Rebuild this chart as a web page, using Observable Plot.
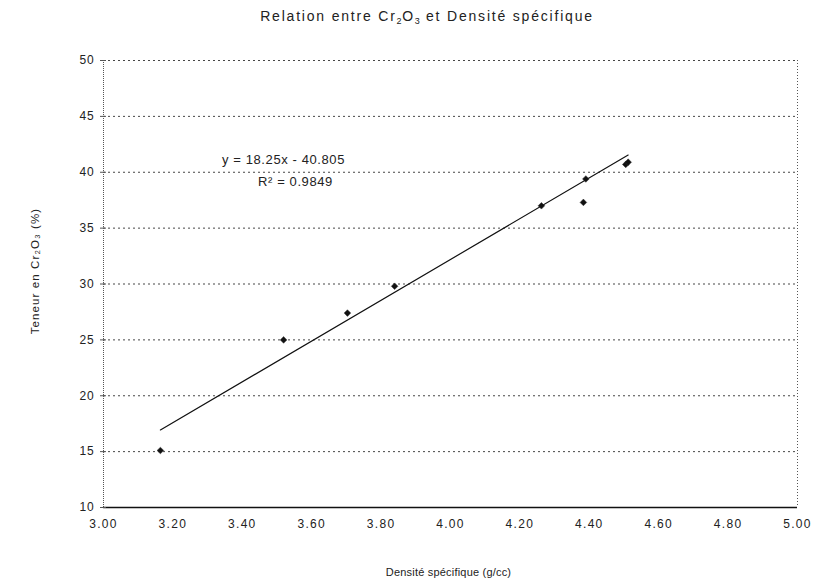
<!DOCTYPE html>
<html>
<head>
<meta charset="utf-8">
<script src="https://cdn.jsdelivr.net/npm/d3@7"></script>
<script src="https://cdn.jsdelivr.net/npm/@observablehq/plot@0.6"></script>
<style>
  body { margin: 0; background: #fff; }
  #title { width: 830px; height: 34px; box-sizing: border-box; padding: 9px 0 0 24px;
    text-align: center; font: 14px "Liberation Sans", Arial, sans-serif; letter-spacing: 1.8px; color: #222; line-height: 15px; }
  #title sub { font-size: 9px; vertical-align: -3px; line-height: 0; letter-spacing: 0.5px; }
  .xax text { font-size: 12px; letter-spacing: 1.3px; }
  .yax text { font-size: 12px; letter-spacing: 0.8px; }
  .eq text { letter-spacing: 0.6px; }
  .xlab text { letter-spacing: 0.2px; }
  .ylab text { letter-spacing: 1.1px; }
</style>
</head>
<body>
<div id="title">Relation entre Cr<sub>2</sub>O<sub>3</sub> et Densité spécifique</div>
<div id="chart"></div>
<script>
// Data
const densite = [3.164, 3.519, 3.703, 3.839, 4.262, 4.390, 4.383, 4.505, 4.512];
const teneur  = [15.1, 25.0, 27.4, 29.8, 37.0, 39.4, 37.3, 40.7, 40.9];
const xTicks = [3.0, 3.2, 3.4, 3.6, 3.8, 4.0, 4.2, 4.4, 4.6, 4.8, 5.0];
const yTicks = [10, 15, 20, 25, 30, 35, 40, 45, 50];
const slope = 18.25, intercept = -40.805, r2 = 0.9849;
const equationText = [`y = ${slope}x - ${Math.abs(intercept)}`, `R² = ${r2}`];
const xLabel = "Densité spécifique (g/cc)";
const yLabel = "Teneur en Cr₂O₃ (%)";

const points = densite.map((d, i) => ({x: d, y: teneur[i]}));
const xmin = d3.min(densite), xmax = d3.max(densite);
const fit = [xmin, xmax].map(x => ({x, y: slope * x + intercept}));

const chart = Plot.plot({
  width: 830,
  height: 554,
  marginTop: 26,
  marginBottom: 81,
  marginLeft: 103,
  marginRight: 33,
  style: {fontFamily: "'Liberation Sans', Arial, sans-serif", fontSize: "11px", color: "#222", background: "#fff"},
  x: {type: "linear", domain: [3, 5]},
  y: {type: "linear", domain: [10, 50]},
  marks: [
    Plot.gridY(yTicks.filter(t => t > 10), {stroke: "#333", strokeOpacity: 0.9, strokeDasharray: "2,3"}),
    Plot.ruleX([5], {stroke: "#555", strokeDasharray: "1,2"}),
    Plot.ruleX([3], {stroke: "#555", strokeDasharray: "1,1"}),
    Plot.ruleY([10], {stroke: "#111", strokeWidth: 1.5}),
    Plot.axisX(xTicks, {tickFormat: d3.format(".2f"), tickSize: 0, tickPadding: 12, label: null, className: "xax"}),
    Plot.axisY(yTicks, {tickSize: 3, tickPadding: 6, stroke: "#555", label: null, className: "yax"}),
    Plot.axisY(yTicks, {tickSize: -3, text: null, label: null, stroke: "#555"}),
    Plot.text([xLabel], {frameAnchor: "bottom", dy: 68, dx: -2, fontSize: 11, fill: "#222", className: "xlab"}),
    Plot.text([yLabel], {frameAnchor: "left", textAnchor: "middle", rotate: -90, dx: -68, dy: -13, fontSize: 11.5, fill: "#222", className: "ylab"}),
    Plot.line(fit, {x: "x", y: "y", stroke: "#111", strokeWidth: 1.2}),
    Plot.dot(points, {x: "x", y: "y", symbol: "diamond2", r: 3, fill: "#111", stroke: "#333", strokeWidth: 0.5}),
    Plot.text([equationText[0]], {frameAnchor: "top-left", dx: 180, dy: 94, fontSize: 13, fill: "#222", textAnchor: "middle", className: "eq"}),
    Plot.text([equationText[1]], {frameAnchor: "top-left", dx: 192, dy: 116, fontSize: 13, fill: "#222", textAnchor: "middle", className: "eq"})
  ]
});
document.getElementById("chart").appendChild(chart);
</script>
</body>
</html>
